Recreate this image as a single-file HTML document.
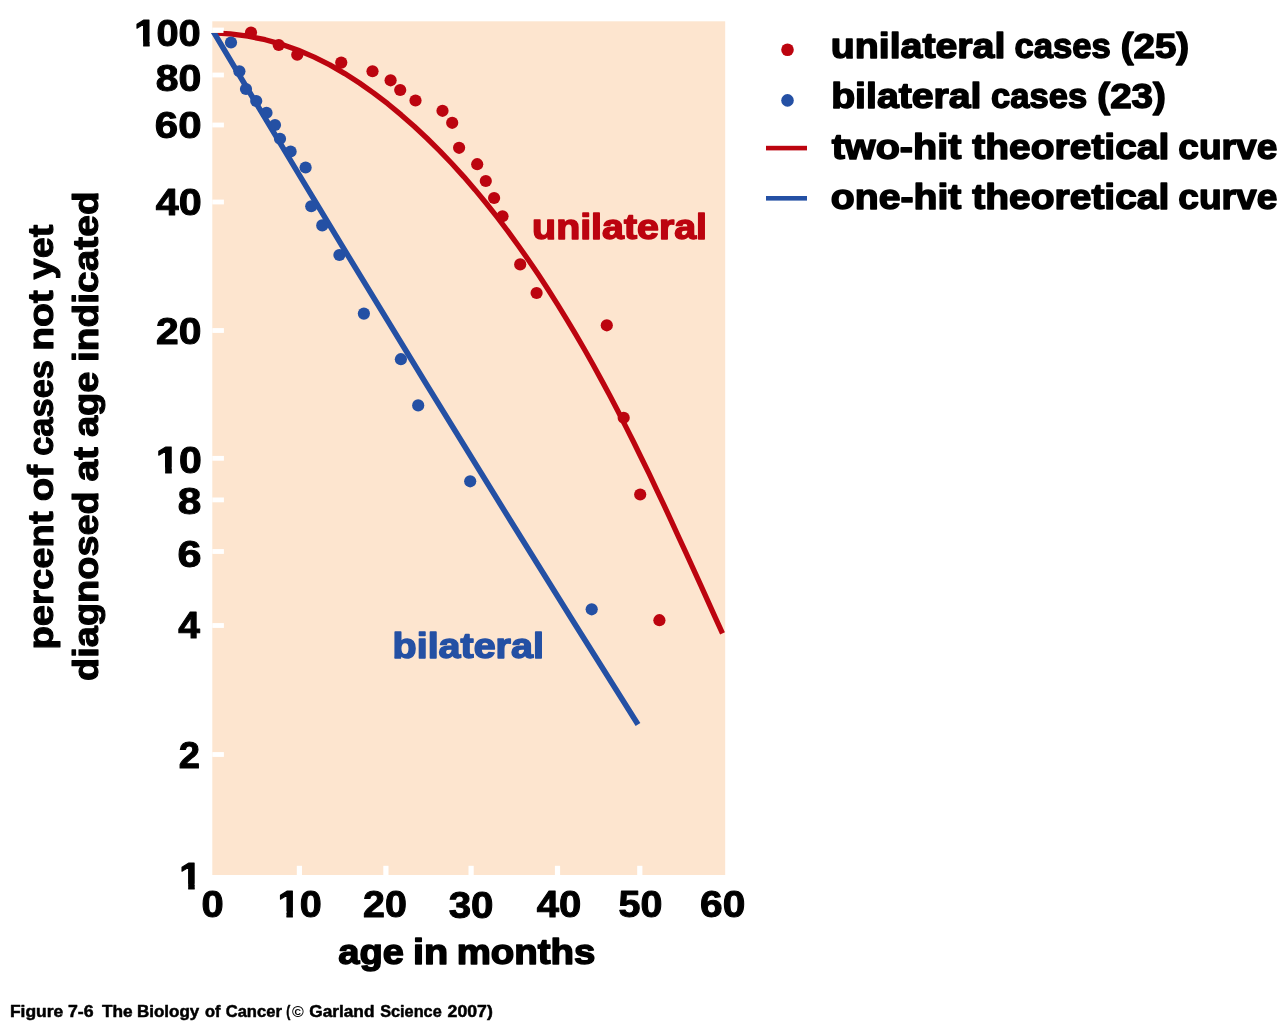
<!DOCTYPE html>
<html lang="en"><head><meta charset="utf-8"><title>Figure 7-6 The Biology of Cancer</title>
<style>html,body{margin:0;padding:0;background:#fff;}svg{display:block;will-change:transform;}text{font-family:"Liberation Sans", sans-serif;font-weight:bold;stroke-linejoin:round;}</style></head><body>
<svg width="1286" height="1024" viewBox="0 0 1286 1024">
<rect x="212.3" y="21.3" width="512.9" height="853.7" fill="#fde5cf"/>
<g fill="#fff">
<rect x="212.3" y="27.6" width="11.6" height="4.8"/>
<rect x="212.3" y="72.6" width="11.6" height="4.8"/>
<rect x="212.3" y="122.6" width="11.6" height="4.8"/>
<rect x="212.3" y="199.6" width="11.6" height="4.8"/>
<rect x="212.3" y="328.1" width="11.6" height="4.8"/>
<rect x="212.3" y="455.9" width="11.6" height="4.8"/>
<rect x="212.3" y="497.5" width="11.6" height="4.8"/>
<rect x="212.3" y="549.1" width="11.6" height="4.8"/>
<rect x="212.3" y="623.1" width="11.6" height="4.8"/>
<rect x="212.3" y="752.1" width="11.6" height="4.8"/>
<rect x="296.8" y="865.8" width="5.2" height="9.2"/>
<rect x="383.3" y="865.8" width="5.2" height="9.2"/>
<rect x="468.5" y="865.8" width="5.2" height="9.2"/>
<rect x="554.9" y="865.8" width="5.2" height="9.2"/>
<rect x="637.2" y="865.8" width="5.2" height="9.2"/>
</g>
<clipPath id="cr"><polygon points="211,33.1 223.5,33.1 223.5,0 730,0 730,880 211,880"/></clipPath>
<path d="M217.0 33.2 L230.2 33.9 L247.9 36.2 L265.2 39.7 L282.0 44.4 L298.3 50.3 L314.3 57.1 L329.8 64.9 L344.8 73.6 L359.5 83.0 L373.8 93.1 L387.7 103.7 L401.2 114.9 L414.4 126.5 L427.2 138.5 L439.7 150.8 L451.8 163.5 L463.7 176.6 L475.2 189.9 L486.4 203.5 L497.4 217.3 L508.0 231.4 L518.4 245.7 L528.6 260.2 L538.5 274.8 L548.1 289.5 L557.5 304.3 L566.7 319.3 L575.7 334.4 L584.5 349.5 L593.1 364.8 L601.5 380.1 L609.8 395.6 L617.9 411.1 L625.8 426.6 L633.7 442.3 L641.4 458.0 L649.1 473.7 L656.6 489.6 L664.1 505.4 L671.5 521.3 L678.8 537.3 L686.1 553.2 L693.4 569.2 L700.7 585.2 L707.9 601.2 L715.2 617.3 L722.5 633.3" stroke="#bc040f" stroke-width="5.3" stroke-linejoin="round" fill="none" clip-path="url(#cr)"/>
<clipPath id="cb"><rect x="210.5" y="33.1" width="520" height="850"/></clipPath><path d="M209.0 24.3 Q423.5 384.5 638.0 724.5" stroke="#2450a4" stroke-width="5.6" fill="none" clip-path="url(#cb)"/>
<g fill="#bc040f"><circle cx="251" cy="32.5" r="6.1"/><circle cx="278.75" cy="45" r="6.1"/><circle cx="297.25" cy="54.75" r="6.1"/><circle cx="341.25" cy="62.6" r="6.1"/><circle cx="372.5" cy="71.25" r="6.1"/><circle cx="390.6" cy="80.3" r="6.1"/><circle cx="400.2" cy="90" r="6.1"/><circle cx="415.5" cy="100.5" r="6.1"/><circle cx="442.5" cy="110.8" r="6.1"/><circle cx="452.2" cy="122.8" r="6.1"/><circle cx="459.1" cy="147.8" r="6.1"/><circle cx="477.2" cy="164.2" r="6.1"/><circle cx="485.8" cy="181" r="6.1"/><circle cx="494.1" cy="198" r="6.1"/><circle cx="502.5" cy="216.25" r="6.1"/><circle cx="520.2" cy="264.4" r="6.1"/><circle cx="536.6" cy="293" r="6.1"/><circle cx="606.8" cy="325.3" r="6.1"/><circle cx="623.7" cy="417.8" r="6.1"/><circle cx="640.2" cy="494.5" r="6.1"/><circle cx="659.4" cy="620.2" r="6.1"/></g>
<g fill="#2450a4"><circle cx="231" cy="42.5" r="6.1"/><circle cx="239.4" cy="71.25" r="6.1"/><circle cx="246" cy="89" r="6.1"/><circle cx="256.25" cy="101" r="6.1"/><circle cx="266.5" cy="112.75" r="6.1"/><circle cx="275" cy="125" r="6.1"/><circle cx="280" cy="138.75" r="6.1"/><circle cx="290.6" cy="151.5" r="6.1"/><circle cx="305.6" cy="167.5" r="6.1"/><circle cx="311.25" cy="206.25" r="6.1"/><circle cx="322.25" cy="225.4" r="6.1"/><circle cx="339.4" cy="255" r="6.1"/><circle cx="363.9" cy="313.6" r="6.1"/><circle cx="400.9" cy="359.2" r="6.1"/><circle cx="418.2" cy="405.4" r="6.1"/><circle cx="470.2" cy="481.3" r="6.1"/><circle cx="591.7" cy="609.3" r="6.1"/></g>
<circle cx="787.5" cy="49.8" r="6.3" fill="#bc040f"/>
<circle cx="787.5" cy="100.4" r="6.3" fill="#2450a4"/>
<rect x="766" y="145.8" width="41" height="4.6" fill="#bc040f"/>
<rect x="766" y="196" width="41" height="4.6" fill="#2450a4"/>
<text x="830.78" y="58.05" font-size="35.5" fill="#000" stroke="#000" stroke-width="1.5" textLength="174.60" lengthAdjust="spacingAndGlyphs">unilateral</text>
<text x="1014.40" y="58.05" font-size="35.5" fill="#000" stroke="#000" stroke-width="1.5" textLength="96.34" lengthAdjust="spacingAndGlyphs">cases</text>
<text x="1120.77" y="58.05" font-size="35.5" fill="#000" stroke="#000" stroke-width="1.5" textLength="68.38" lengthAdjust="spacingAndGlyphs">(25)</text>
<text x="831.17" y="108.45" font-size="35.5" fill="#000" stroke="#000" stroke-width="1.5" textLength="150.33" lengthAdjust="spacingAndGlyphs">bilateral</text>
<text x="991.12" y="108.45" font-size="35.5" fill="#000" stroke="#000" stroke-width="1.5" textLength="95.98" lengthAdjust="spacingAndGlyphs">cases</text>
<text x="1097.32" y="108.45" font-size="35.5" fill="#000" stroke="#000" stroke-width="1.5" textLength="68.58" lengthAdjust="spacingAndGlyphs">(23)</text>
<text x="831.66" y="158.55" font-size="35.5" fill="#000" stroke="#000" stroke-width="1.5" textLength="129.73" lengthAdjust="spacingAndGlyphs">two-hit</text>
<text x="972.34" y="158.55" font-size="35.5" fill="#000" stroke="#000" stroke-width="1.5" textLength="197.02" lengthAdjust="spacingAndGlyphs">theoretical</text>
<text x="1178.25" y="158.55" font-size="35.5" fill="#000" stroke="#000" stroke-width="1.5" textLength="99.18" lengthAdjust="spacingAndGlyphs">curve</text>
<text x="830.81" y="209.15" font-size="35.5" fill="#000" stroke="#000" stroke-width="1.5" textLength="130.55" lengthAdjust="spacingAndGlyphs">one-hit</text>
<text x="972.34" y="209.15" font-size="35.5" fill="#000" stroke="#000" stroke-width="1.5" textLength="197.02" lengthAdjust="spacingAndGlyphs">theoretical</text>
<text x="1178.25" y="209.15" font-size="35.5" fill="#000" stroke="#000" stroke-width="1.5" textLength="99.18" lengthAdjust="spacingAndGlyphs">curve</text>
<text x="532.13" y="238.55" font-size="35.5" fill="#bc040f" stroke="#bc040f" stroke-width="1.5" textLength="174.91" lengthAdjust="spacingAndGlyphs">unilateral</text>
<text x="392.59" y="658.25" font-size="35.5" fill="#2450a4" stroke="#2450a4" stroke-width="1.5" textLength="151.29" lengthAdjust="spacingAndGlyphs">bilateral</text>
<text x="338.30" y="963.55" font-size="35.5" fill="#000" stroke="#000" stroke-width="1.5" textLength="65.66" lengthAdjust="spacingAndGlyphs">age</text>
<text x="413.03" y="963.55" font-size="35.5" fill="#000" stroke="#000" stroke-width="1.5" textLength="35.21" lengthAdjust="spacingAndGlyphs">in</text>
<text x="456.65" y="963.55" font-size="35.5" fill="#000" stroke="#000" stroke-width="1.5" textLength="138.77" lengthAdjust="spacingAndGlyphs">months</text>
<text x="9.93" y="1016.65" font-size="16.2" fill="#000" stroke="#000" stroke-width="0.5" textLength="53.38" lengthAdjust="spacingAndGlyphs">Figure</text>
<text x="68.03" y="1016.65" font-size="16.2" fill="#000" stroke="#000" stroke-width="0.5" textLength="25.58" lengthAdjust="spacingAndGlyphs">7-6</text>
<text x="101.96" y="1016.65" font-size="16.2" fill="#000" stroke="#000" stroke-width="0.5" textLength="30.64" lengthAdjust="spacingAndGlyphs">The</text>
<text x="136.91" y="1016.65" font-size="16.2" fill="#000" stroke="#000" stroke-width="0.5" textLength="62.38" lengthAdjust="spacingAndGlyphs">Biology</text>
<text x="204.97" y="1016.65" font-size="16.2" fill="#000" stroke="#000" stroke-width="0.5" textLength="15.54" lengthAdjust="spacingAndGlyphs">of</text>
<text x="225.73" y="1016.65" font-size="16.2" fill="#000" stroke="#000" stroke-width="0.5" textLength="56.10" lengthAdjust="spacingAndGlyphs">Cancer</text>
<text x="286.36" y="1016.65" font-size="16.2" fill="#000" stroke="#000" stroke-width="0.5" textLength="4.07" lengthAdjust="spacingAndGlyphs">(</text>
<text x="309.23" y="1016.65" font-size="16.2" fill="#000" stroke="#000" stroke-width="0.5" textLength="65.20" lengthAdjust="spacingAndGlyphs">Garland</text>
<text x="380.16" y="1016.65" font-size="16.2" fill="#000" stroke="#000" stroke-width="0.5" textLength="61.55" lengthAdjust="spacingAndGlyphs">Science</text>
<text x="447.62" y="1016.65" font-size="16.2" fill="#000" stroke="#000" stroke-width="0.5" textLength="45.15" lengthAdjust="spacingAndGlyphs">2007)</text>
<text x="292.12" y="1016.60" font-size="15" font-weight="normal" fill="#000" stroke="#000" stroke-width="0" textLength="11.80" lengthAdjust="spacingAndGlyphs">©</text>
<text transform="translate(52.85 649.56) rotate(-90)" font-size="35.5" fill="#000" stroke="#000" stroke-width="1.1" textLength="138.25" lengthAdjust="spacingAndGlyphs">percent</text>
<text transform="translate(52.85 501.27) rotate(-90)" font-size="35.5" fill="#000" stroke="#000" stroke-width="1.1" textLength="36.27" lengthAdjust="spacingAndGlyphs">of</text>
<text transform="translate(52.85 455.81) rotate(-90)" font-size="35.5" fill="#000" stroke="#000" stroke-width="1.1" textLength="95.76" lengthAdjust="spacingAndGlyphs">cases</text>
<text transform="translate(52.85 350.84) rotate(-90)" font-size="35.5" fill="#000" stroke="#000" stroke-width="1.1" textLength="60.57" lengthAdjust="spacingAndGlyphs">not</text>
<text transform="translate(52.85 279.41) rotate(-90)" font-size="35.5" fill="#000" stroke="#000" stroke-width="1.1" textLength="54.75" lengthAdjust="spacingAndGlyphs">yet</text>
<text transform="translate(97.85 680.93) rotate(-90)" font-size="35.5" fill="#000" stroke="#000" stroke-width="1.1" textLength="189.70" lengthAdjust="spacingAndGlyphs">diagnosed</text>
<text transform="translate(97.85 481.62) rotate(-90)" font-size="35.5" fill="#000" stroke="#000" stroke-width="1.1" textLength="34.69" lengthAdjust="spacingAndGlyphs">at</text>
<text transform="translate(97.85 437.09) rotate(-90)" font-size="35.5" fill="#000" stroke="#000" stroke-width="1.1" textLength="65.52" lengthAdjust="spacingAndGlyphs">age</text>
<text transform="translate(97.85 362.02) rotate(-90)" font-size="35.5" fill="#000" stroke="#000" stroke-width="1.1" textLength="170.67" lengthAdjust="spacingAndGlyphs">indicated</text>
<clipPath id="cyt0"><rect x="128.38" y="1.11" width="28.12" height="39.33"/><rect x="143.17" y="39.43" width="6.46" height="9.67"/><rect x="156.75" y="1.11" width="52.23" height="52"/></clipPath>
<text x="134.38" y="46.11" font-size="37.0" fill="#000" stroke="#000" stroke-width="1.0" textLength="66.35" lengthAdjust="spacingAndGlyphs" clip-path="url(#cyt0)">100</text>
<text x="155.81" y="91.18" font-size="37.0" fill="#000" stroke="#000" stroke-width="1.0" textLength="45.62" lengthAdjust="spacingAndGlyphs">80</text>
<text x="154.81" y="138.37" font-size="37.0" fill="#000" stroke="#000" stroke-width="1.0" textLength="46.70" lengthAdjust="spacingAndGlyphs">60</text>
<text x="155.72" y="215.31" font-size="37.0" fill="#000" stroke="#000" stroke-width="1.0" textLength="45.88" lengthAdjust="spacingAndGlyphs">40</text>
<text x="156.14" y="343.51" font-size="37.0" fill="#000" stroke="#000" stroke-width="1.0" textLength="45.37" lengthAdjust="spacingAndGlyphs">20</text>
<clipPath id="cyt5"><rect x="150.11" y="427.91" width="28.77" height="39.33"/><rect x="165.16" y="466.23" width="6.62" height="9.67"/><rect x="179.13" y="427.91" width="30.77" height="52"/></clipPath>
<text x="156.11" y="472.91" font-size="37.0" fill="#000" stroke="#000" stroke-width="1.0" textLength="45.54" lengthAdjust="spacingAndGlyphs" clip-path="url(#cyt5)">10</text>
<text x="177.65" y="513.58" font-size="37.0" fill="#000" stroke="#000" stroke-width="1.0" textLength="23.50" lengthAdjust="spacingAndGlyphs">8</text>
<text x="177.46" y="566.62" font-size="37.0" fill="#000" stroke="#000" stroke-width="1.0" textLength="23.99" lengthAdjust="spacingAndGlyphs">6</text>
<text x="178.33" y="638.31" font-size="37.0" fill="#000" stroke="#000" stroke-width="1.0" textLength="21.68" lengthAdjust="spacingAndGlyphs">4</text>
<text x="178.72" y="767.91" font-size="37.0" fill="#000" stroke="#000" stroke-width="1.0" textLength="21.21" lengthAdjust="spacingAndGlyphs">2</text>
<clipPath id="cyt10"><rect x="173.31" y="844.41" width="28.33" height="39.33"/><rect x="188.18" y="882.73" width="6.51" height="9.67"/></clipPath>
<text x="179.31" y="889.41" font-size="37.0" fill="#000" stroke="#000" stroke-width="1.0" textLength="22.33" lengthAdjust="spacingAndGlyphs" clip-path="url(#cyt10)">1</text>
<text x="201.44" y="916.90" font-size="37.0" fill="#000" stroke="#000" stroke-width="1.0" textLength="22.16" lengthAdjust="spacingAndGlyphs">0</text>
<clipPath id="cxt1"><rect x="271.73" y="871.81" width="27.96" height="39.33"/><rect x="286.45" y="910.13" width="6.42" height="9.67"/><rect x="299.94" y="871.81" width="29.96" height="52"/></clipPath>
<text x="277.73" y="916.81" font-size="37.0" fill="#000" stroke="#000" stroke-width="1.0" textLength="43.93" lengthAdjust="spacingAndGlyphs" clip-path="url(#cxt1)">10</text>
<text x="362.98" y="916.81" font-size="37.0" fill="#000" stroke="#000" stroke-width="1.0" textLength="43.82" lengthAdjust="spacingAndGlyphs">20</text>
<text x="448.66" y="917.69" font-size="37.0" fill="#000" stroke="#000" stroke-width="1.0" textLength="44.85" lengthAdjust="spacingAndGlyphs">30</text>
<text x="536.65" y="916.81" font-size="37.0" fill="#000" stroke="#000" stroke-width="1.0" textLength="44.53" lengthAdjust="spacingAndGlyphs">40</text>
<text x="618.52" y="916.85" font-size="37.0" fill="#000" stroke="#000" stroke-width="1.0" textLength="43.86" lengthAdjust="spacingAndGlyphs">50</text>
<text x="700.07" y="917.10" font-size="37.0" fill="#000" stroke="#000" stroke-width="1.0" textLength="45.22" lengthAdjust="spacingAndGlyphs">60</text>
</svg></body></html>
